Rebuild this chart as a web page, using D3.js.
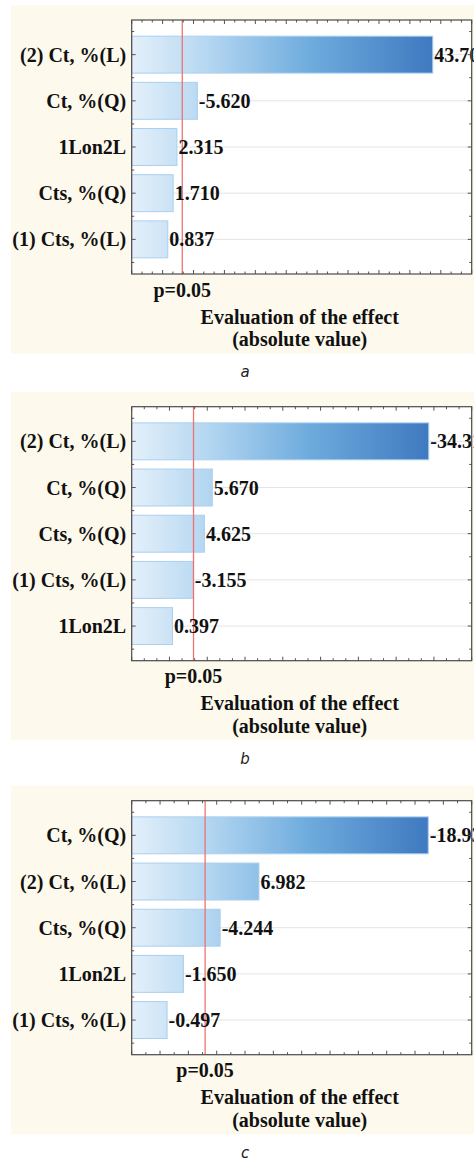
<!DOCTYPE html>
<html>
<head>
<meta charset="utf-8">
<script src="https://cdn.jsdelivr.net/npm/d3@7"></script>
<style>
  html, body { margin: 0; padding: 0; background: #ffffff; overflow: hidden; }
  svg { display: block; }
</style>
</head>
<body>
<svg id="chart" width="474" height="1161"></svg>
<script>
// Pareto charts of standardized effects, three responses
const panelLetters = ["a", "b", "c"];

const categoriesA = ["(2) Ct, %(L)", "Ct, %(Q)", "1Lon2L", "Cts, %(Q)", "(1) Cts, %(L)"];
const effectsA    = [43.704, -5.620, 2.315, 1.710, 0.837];

const categoriesB = ["(2) Ct, %(L)", "Ct, %(Q)", "Cts, %(Q)", "(1) Cts, %(L)", "1Lon2L"];
const effectsB    = [-34.316, 5.670, 4.625, -3.155, 0.397];

const categoriesC = ["Ct, %(Q)", "(2) Ct, %(L)", "Cts, %(Q)", "1Lon2L", "(1) Cts, %(L)"];
const effectsC    = [-18.934, 6.982, -4.244, -1.650, -0.497];

const xDomains    = [[-5, 50], [-5, 40], [-2, 22]];
const majorSteps  = [5, 5, 2];
const minorSteps  = [5 / 3, 5 / 3, 1];
const criticalT   = 3.182;           // t value at p = 0.05
const pLabel      = "p=0.05";
const axisTitle   = ["Evaluation of the effect", "(absolute value)"];

const panels = [
  { letter: panelLetters[0], cats: categoriesA, vals: effectsA, domain: xDomains[0], major: majorSteps[0], minor: minorSteps[0], top: 20 },
  { letter: panelLetters[1], cats: categoriesB, vals: effectsB, domain: xDomains[1], major: majorSteps[1], minor: minorSteps[1], top: 406.7 },
  { letter: panelLetters[2], cats: categoriesC, vals: effectsC, domain: xDomains[2], major: majorSteps[2], minor: minorSteps[2], top: 800.7 }
];

const svg = d3.select("#chart");
const plotLeft = 131.7, plotRight = 471.7, plotH = 254;
const serif = "'Liberation Serif', 'Times New Roman', serif";
const labelSize = 20;

const defs = svg.append("defs");

panels.forEach((p, i) => {
  const top = p.top, bottom = top + plotH;

  // beige panel background
  svg.append("rect")
    .attr("x", 11).attr("y", top - 15)
    .attr("width", 474 - 11).attr("height", plotH + 15 + 79.5)
    .attr("fill", "#fdf9ec");

  const x = d3.scaleLinear().domain(p.domain).range([plotLeft, plotRight]);
  const y = d3.scaleBand().domain(p.cats).range([top, bottom])
    .paddingInner(0.2).paddingOuter(0.35);

  const g = svg.append("g");

  // plot area
  g.append("rect")
    .attr("x", plotLeft).attr("y", top)
    .attr("width", plotRight - plotLeft).attr("height", plotH)
    .attr("fill", "#ffffff");

  // horizontal gridlines at category centres
  g.selectAll(".grid").data(p.cats).enter().append("line")
    .attr("x1", plotLeft).attr("x2", plotRight)
    .attr("y1", d => y(d) + y.bandwidth() / 2)
    .attr("y2", d => y(d) + y.bandwidth() / 2)
    .attr("stroke", "#e4e4e4").attr("stroke-width", 1);

  // gradient along the value axis, spanning the longest bar
  const maxAbs = d3.max(p.vals, v => Math.abs(v));
  const gradId = "barGrad" + i;
  const grad = defs.append("linearGradient")
    .attr("id", gradId).attr("gradientUnits", "userSpaceOnUse")
    .attr("x1", plotLeft).attr("x2", x(maxAbs)).attr("y1", 0).attr("y2", 0);
  grad.append("stop").attr("offset", "0%").attr("stop-color", "#e4f0fa");
  grad.append("stop").attr("offset", "25%").attr("stop-color", "#b5d7f1");
  grad.append("stop").attr("offset", "60%").attr("stop-color", "#6dabdd");
  grad.append("stop").attr("offset", "100%").attr("stop-color", "#3f79c0");

  // bars (absolute effect), starting at the axis minimum
  g.selectAll(".bar").data(p.vals).enter().append("rect")
    .attr("x", plotLeft)
    .attr("y", (d, j) => y(p.cats[j]))
    .attr("width", d => x(Math.abs(d)) - plotLeft)
    .attr("height", y.bandwidth())
    .attr("fill", `url(#${gradId})`)
    .attr("stroke", "#aacfef").attr("stroke-width", 1);

  // significance line
  g.append("line")
    .attr("x1", x(criticalT)).attr("x2", x(criticalT))
    .attr("y1", top).attr("y2", bottom)
    .attr("stroke", "#ee7272").attr("stroke-width", 1.3);

  // value labels
  g.selectAll(".val").data(p.vals).enter().append("text")
    .attr("x", d => x(Math.abs(d)) + 1.5)
    .attr("y", (d, j) => y(p.cats[j]) + y.bandwidth() / 2 + 7)
    .attr("font-family", serif).attr("font-weight", "bold")
    .attr("font-size", labelSize).attr("fill", "#111")
    .text(d => d.toFixed(3));

  // category labels
  g.selectAll(".cat").data(p.cats).enter().append("text")
    .attr("x", plotLeft - 5.5)
    .attr("y", d => y(d) + y.bandwidth() / 2 + 7)
    .attr("text-anchor", "end")
    .attr("font-family", serif).attr("font-weight", "bold")
    .attr("font-size", labelSize).attr("fill", "#111")
    .text(d => d);

  // inward ticks on all four sides
  const majors = d3.range(Math.ceil(p.domain[0] / p.major) * p.major, p.domain[1] + 1e-9, p.major);
  const minors = d3.range(p.domain[0], p.domain[1] + 1e-9, p.minor)
    .filter(v => !majors.some(m => Math.abs(m - v) < 1e-6));
  const xTicks = majors.map(v => ({ v, len: 4 })).concat(minors.map(v => ({ v, len: 2.5 })));
  [bottom, top].forEach((yy, k) => {
    g.selectAll(null).data(xTicks).enter().append("line")
      .attr("x1", d => x(d.v)).attr("x2", d => x(d.v))
      .attr("y1", yy).attr("y2", d => k === 0 ? yy - d.len : yy + d.len)
      .attr("stroke", "#555").attr("stroke-width", 1);
  });
  const step = y.step();
  const c0 = y(p.cats[0]) + y.bandwidth() / 2;
  const yTicks = d3.range(-2, p.cats.length * 2 + 1)
    .map(k => ({ y: c0 + k * step / 2, len: k % 2 === 0 ? 4 : 2.5 }))
    .filter(d => d.y > top + 1 && d.y < bottom - 1);
  [plotLeft, plotRight].forEach((xx, k) => {
    g.selectAll(null).data(yTicks).enter().append("line")
      .attr("y1", d => d.y).attr("y2", d => d.y)
      .attr("x1", xx).attr("x2", d => k === 0 ? xx + d.len : xx - d.len)
      .attr("stroke", "#555").attr("stroke-width", 1);
  });

  // plot frame
  g.append("rect")
    .attr("x", plotLeft).attr("y", top)
    .attr("width", plotRight - plotLeft).attr("height", plotH)
    .attr("fill", "none").attr("stroke", "#4a4a4a").attr("stroke-width", 1.2);

  // p-level label under the critical line
  g.append("text")
    .attr("x", x(criticalT)).attr("y", bottom + 22.5)
    .attr("text-anchor", "middle")
    .attr("font-family", serif).attr("font-weight", "bold")
    .attr("font-size", labelSize).attr("fill", "#111")
    .text(pLabel);

  // axis title
  axisTitle.forEach((t, k) => {
    g.append("text")
      .attr("x", (plotLeft + plotRight) / 2 - 2).attr("y", bottom + 49.5 + k * 22.5)
      .attr("text-anchor", "middle")
      .attr("font-family", serif).attr("font-weight", "bold")
      .attr("font-size", labelSize).attr("fill", "#111")
      .text(t);
  });

  // panel caption
  svg.append("text")
    .attr("x", 245).attr("y", bottom + 103)
    .attr("text-anchor", "middle")
    .attr("font-family", "'DejaVu Sans', sans-serif").attr("font-style", "italic")
    .attr("font-size", 15).attr("fill", "#222")
    .text(p.letter);
});
</script>
</body>
</html>
